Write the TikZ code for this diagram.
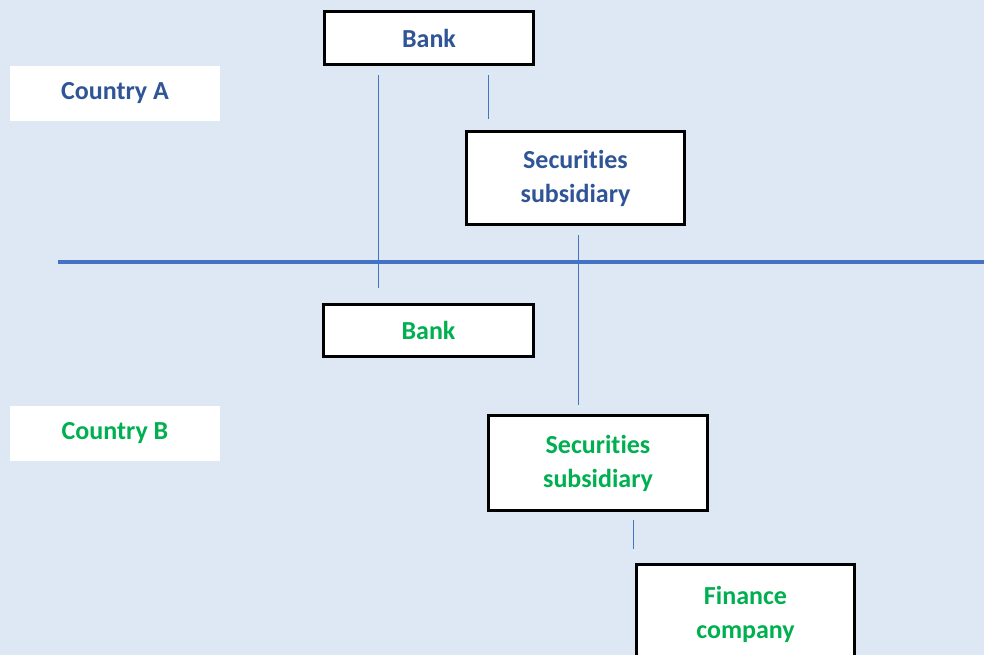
\documentclass[tikz,border=0pt]{standalone}
\usepackage{fontspec}
\setmainfont{Carlito}[Ligatures=NoCommon]
\definecolor{pagebg}{HTML}{DEE8F4}
\definecolor{linkblue}{HTML}{4472C4}
\definecolor{textA}{HTML}{2F5597}
\definecolor{textB}{HTML}{00B050}
\begin{document}
\begin{tikzpicture}[x=1pt,y=-1pt,
    every node/.style={font=\fontsize{26}{34}\selectfont\bfseries,align=center,inner sep=0pt},
    entity/.style={draw=black,fill=white,line width=3.5pt},
    country/.style={fill=white,minimum width=210pt,minimum height=55pt},
    link/.style={draw=linkblue,line width=1pt},
    border/.style={draw=linkblue,line width=4pt}]
  \fill[pagebg] (0,0) rectangle (984,655);
  \clip (0,0) rectangle (984,655);
  \node[entity,text=textA,minimum width=209pt,minimum height=53pt] (bankA) at (429,38) {Bank};
  \node[entity,text=textA,minimum width=218pt,minimum height=93pt] (secA) at (575.5,178) {Securities\\subsidiary};
  \node[country,text=textA] (countryA) at (115,93.5) {Country A};
  \node[entity,text=textB,minimum width=210pt,minimum height=52pt] (bankB) at (428.5,330.5) {Bank};
  \node[entity,text=textB,minimum width=219pt,minimum height=95pt] (secB) at (598,463) {Securities\\subsidiary};
  \node[country,text=textB] (countryB) at (115,433.5) {Country B};
  \node[entity,text=textB,minimum width=218pt,minimum height=100pt] (finB) at (745.5,614.5) {Finance\\company};
  \coordinate (borderW) at (58,262);
  \coordinate (borderE) at (984,262);
  \draw[border] (borderW) -- (borderE);
  \draw[link,shorten <=9pt,shorten >=15pt] ([xshift=-51pt]bankA.south) -- ([xshift=-51pt]bankA.south |- bankB.north);
  \draw[link,shorten <=9pt,shorten >=11pt] ([xshift=59pt]bankA.south) -- ([xshift=59pt]bankA.south |- secA.north);
  \draw[link,shorten <=9pt,shorten >=9pt] ([xshift=2.5pt]secA.south) -- ([xshift=2.5pt]secA.south |- secB.north);
  \draw[link,shorten <=8pt,shorten >=14pt] ([xshift=35pt]secB.south) -- ([xshift=35pt]secB.south |- finB.north);
\end{tikzpicture}
\end{document}
